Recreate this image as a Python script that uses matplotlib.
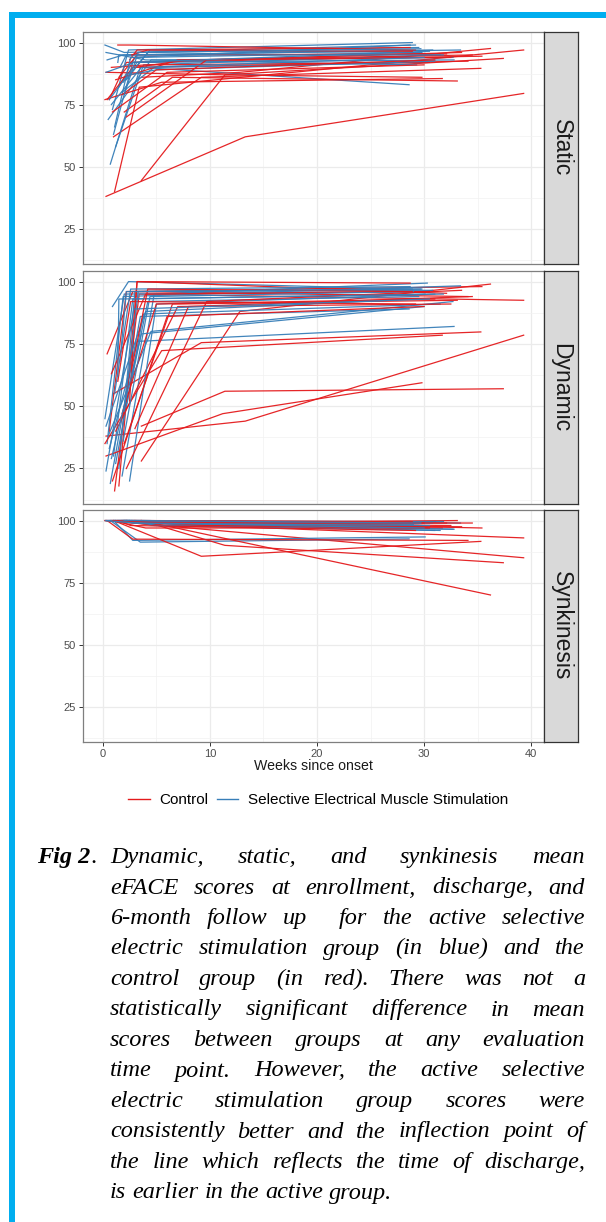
import matplotlib.pyplot as plt
from matplotlib.lines import Line2D
from matplotlib.patches import Rectangle

# semanas (matrícula, alta, seguimento) por paciente
ctrl_weeks = [
    [0.3, 13.3, 39.3], [1.1, 3.4, 39.3], [3.6, 11.4, 37.4], [3.6, 12.8, 36.2],
    [0.6, 2.2, 35.4], [1.0, 9.2, 35.3], [0.4, 2.8, 34.1], [2.0, 6.5, 33.1],
    [1.5, 3.2, 32.1], [0.2, 5.5, 31.7], [0.3, 11.2, 29.8], [2.5, 3.2, 28.7],
    [1.2, 7.0, 32.5], [0.8, 4.0, 30.5], [2.2, 9.7, 33.5], [1.8, 5.0, 31.0],
    [3.0, 8.0, 34.5], [1.4, 2.6, 29.2], [0.9, 6.0, 30.0], [2.7, 4.2, 28.9],
]
ctrl_static = [
    [38, 62, 79.5], [40, 82, 97], [44.4, 87, 93.6], [86, 88, 97.6],
    [77, 92, 94.5], [62, 86, 89.6], [77, 90, 92.5], [72, 86, 84.5],
    [86, 95, 95.4], [77, 84, 85.5], [88, 87, 86], [93, 97, 98],
    [85, 93, 94], [90, 91, 92], [70, 93, 96], [79, 89, 93],
    [90, 93, 95], [99, 99, 97], [72, 88, 91], [95, 97, 96.5],
]
ctrl_dynamic = [
    [38, 44, 78.5], [16, 95, 92.5], [42, 56, 57], [28, 88, 99],
    [40, 96, 98], [55, 75.5, 79.8], [71, 96, 94], [35, 91, 92.5],
    [18, 100, 95.3], [35, 72.3, 78.5], [30, 47, 59.4], [52, 100, 99.4],
    [40, 90, 91], [63, 95, 96], [25, 92, 96.5], [47, 91, 93],
    [41, 90, 94], [60, 92, 91], [20, 86, 90], [65, 97, 96],
]
ctrl_synk = [
    [100, 95, 85], [100, 99, 93], [100, 90, 83], [100, 91.5, 70],
    [100, 100, 97], [100, 85.6, 91.6], [100, 92.5, 92], [100, 99, 100],
    [100, 100, 99], [100, 98, 97], [100, 99, 98], [100, 100, 100],
    [100, 99, 98], [100, 97, 97], [100, 98, 97.5], [100, 100, 100],
    [100, 99, 99], [100, 98, 96], [100, 99, 99], [100, 100, 99.5],
]

sems_weeks = [
    [0.7, 3.5, 28.6], [0.2, 2.0, 29.2], [1.0, 2.8, 30.1], [0.5, 4.5, 32.7],
    [1.5, 3.0, 29.8], [0.9, 2.4, 28.9], [1.8, 4.8, 30.3], [0.4, 1.9, 33.4],
    [1.2, 3.8, 31.5], [2.2, 4.2, 29.5], [0.6, 3.2, 32.8], [1.6, 2.2, 30.8],
    [0.3, 4.0, 29.3], [2.5, 5.0, 31.0], [1.1, 2.6, 28.7], [0.8, 3.6, 30.0],
    [1.9, 4.4, 29.0], [1.4, 1.5, 31.8], [0.3, 2.9, 30.5], [2.0, 3.3, 29.7],
]
sems_static = [
    [51, 90, 83], [99, 96, 99], [63, 92, 95.6], [69, 93, 94],
    [82, 94, 96], [73, 97, 100], [80, 90, 92], [93, 95, 97],
    [58, 91, 95], [85, 96, 98], [77, 92, 93], [90, 95, 97],
    [96, 93, 91], [87, 89, 92.5], [66, 94, 99], [75, 90, 94],
    [84, 97, 96], [92, 95, 95], [88, 92, 96.5], [79, 96, 97.5],
]
sems_dynamic = [
    [19, 86, 89], [45, 95, 96], [30, 93, 95], [38, 80, 92],
    [25, 96, 97], [90, 100, 97], [22, 95, 99.4], [35, 94, 98.3],
    [27, 87, 91], [50, 92, 94], [33, 76, 82], [68, 96, 96.5],
    [42, 88, 93], [20, 91, 95], [55, 97, 98], [29, 79, 90],
    [36, 94, 96], [62, 93, 95], [24, 89, 93], [48, 96, 97],
]
sems_synk = [
    [100, 91.3, 92.6], [100, 100, 99], [100, 92, 93.4], [100, 99, 96.5],
    [100, 99, 97], [100, 100, 98], [100, 98, 97], [100, 100, 99],
    [100, 99, 96], [100, 100, 98], [100, 99, 96.5], [100, 100, 99],
    [100, 99, 97.5], [100, 98, 96], [100, 100, 99.5], [100, 99, 97],
    [100, 100, 98.5], [100, 100, 100], [100, 99, 98], [100, 100, 99],
]

panel_names = ['Static', 'Dynamic', 'Synkinesis']
x_ticks = [0, 10, 20, 30, 40]
y_ticks = [25, 50, 75, 100]

caption_lines = [
    "Dynamic, static, and synkinesis mean",
    "eFACE scores at enrollment, discharge, and",
    "6-month follow up  for the active selective",
    "electric stimulation group (in blue) and the",
    "control group (in red). There was not a",
    "statistically significant difference in mean",
    "scores between groups at any evaluation",
    "time point. However, the active selective",
    "electric stimulation group scores were",
    "consistently better and the inflection point of",
    "the line which reflects the time of discharge,",
    "is earlier in the active group.",
]

RED = '#E41A1C'
BLUE = '#377EB8'
W, H = 606, 1222

plt.rcParams['font.family'] = ['Liberation Sans', 'DejaVu Sans']

fig = plt.figure(figsize=(W / 100, H / 100), dpi=100)
fig.patch.set_facecolor('white')


def fx(px):
    return px / W


def fy(py):
    return 1 - py / H


# moldura azul
fig.add_artist(Rectangle((fx(9), fy(18)), fx(W - 9), 6 / H, transform=fig.transFigure,
                         color='#00AEEF', lw=0))
fig.add_artist(Rectangle((fx(9), 0), 6 / W, fy(12), transform=fig.transFigure,
                         color='#00AEEF', lw=0))

panel_rows = [(32, 264), (271, 504), (510, 742)]
ctrl_sets = [ctrl_static, ctrl_dynamic, ctrl_synk]
sems_sets = [sems_static, sems_dynamic, sems_synk]

left_px, right_px, strip_px = 83, 544, 578

for i, name in enumerate(panel_names):
    top, bot = panel_rows[i]
    ax = fig.add_axes([fx(left_px), fy(bot), fx(right_px - left_px), (bot - top) / H])
    ax.set_xlim(-1.85, 41.2)
    ax.set_ylim(10.75, 104.25)
    ax.set_xticks(x_ticks)
    ax.set_xticks([5, 15, 25, 35], minor=True)
    ax.set_yticks(y_ticks)
    ax.set_yticks([12.5, 37.5, 62.5, 87.5], minor=True)
    ax.grid(which='major', color='#EBEBEB', lw=0.9)
    ax.grid(which='minor', color='#F2F2F2', lw=0.5)
    ax.set_axisbelow(True)
    ax.tick_params(which='minor', length=0)
    ax.tick_params(which='major', length=3, width=0.7, color='#333333',
                   labelsize=8, labelcolor='#4D4D4D', pad=2)
    for s in ax.spines.values():
        s.set_color('#7F7F7F')
        s.set_linewidth(0.9)

    # alternar grupos para misturar as camadas
    for k in range(max(len(ctrl_weeks), len(sems_weeks))):
        if k < len(ctrl_weeks):
            ax.plot(ctrl_weeks[k], ctrl_sets[i][k], color=RED, lw=0.9, alpha=0.95)
        if k < len(sems_weeks):
            ax.plot(sems_weeks[k], sems_sets[i][k], color=BLUE, lw=0.9, alpha=0.95)

    if i < 2:
        ax.tick_params(axis='x', length=0, labelbottom=False)
    else:
        ax.set_xlabel('Weeks since onset', fontsize=10.2, color='#1A1A1A', labelpad=0)

    sax = fig.add_axes([fx(right_px), fy(bot), fx(strip_px - right_px), (bot - top) / H])
    sax.set_facecolor('#D9D9D9')
    sax.set_xticks([])
    sax.set_yticks([])
    for s in sax.spines.values():
        s.set_color('#333333')
        s.set_linewidth(0.9)
    sax.text(0.5, 0.5, name, rotation=270, ha='center', va='center',
             fontsize=16.5, color='#1A1A1A', transform=sax.transAxes)

handles = [Line2D([], [], color=RED, lw=1), Line2D([], [], color=BLUE, lw=1)]
fig.legend(handles, ['Control', 'Selective Electrical Muscle Stimulation'],
           loc='center', bbox_to_anchor=(fx(318), fy(800)), ncol=2, frameon=False,
           fontsize=11, handlelength=1.4, handletextpad=0.6, columnspacing=0.6)

# legenda da figura, justificada à mão
serif = ['Liberation Serif', 'DejaVu Serif']
cap_size = 17.5
text_left, text_right, fig_left = 110, 585, 37
base0, step = 863, 30.5

fig.canvas.draw()
renderer = fig.canvas.get_renderer()


def width_of(t):
    return t.get_window_extent(renderer).width


label = fig.text(fx(fig_left), fy(base0), 'Fig 2', fontsize=cap_size, family=serif,
                 style='italic', weight='bold', va='baseline')
dot = fig.text(fx(fig_left + width_of(label)), fy(base0), '.', fontsize=cap_size,
               family=serif, va='baseline')

for n, line in enumerate(caption_lines):
    base = base0 + n * step
    words = line.split(' ')
    items = [fig.text(0, fy(base), w, fontsize=cap_size, family=serif, style='italic',
                      va='baseline') for w in words]
    widths = [width_of(t) if t.get_text() else 0 for t in items]
    if n == len(caption_lines) - 1:
        space = width_of(fig.text(0, 0, 'a a', fontsize=cap_size, family=serif,
                                  style='italic', alpha=0)) - \
            width_of(fig.text(0, 0, 'aa', fontsize=cap_size, family=serif,
                              style='italic', alpha=0))
        gap = space
    else:
        gap = (text_right - text_left - sum(widths)) / (len(words) - 1)
    x = text_left
    for t, w in zip(items, widths):
        t.set_x(fx(x))
        x += w + gap

fig.savefig('out.png', dpi=100, facecolor='white')
